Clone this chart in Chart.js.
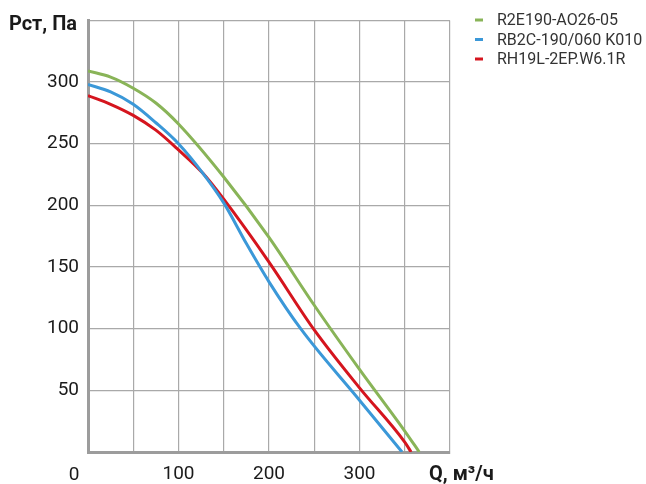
<!DOCTYPE html>
<html>
<head>
<meta charset="utf-8">
<script src="https://cdn.jsdelivr.net/npm/chart.js@4"></script>
<style>
  html, body { margin: 0; padding: 0; background: #fff; }
  #wrap { width: 646px; height: 484px; }
</style>
</head>
<body>
<div id="wrap"><canvas id="fanChart" width="646" height="484"></canvas></div>
<script>
// подписи серий
const seriesNames = ['R2E190-AO26-05', 'RB2C-190/060 K010', 'RH19L-2EP.W6.1R'];

// Q, м³/ч  -> Рст, Па
const greenQ = [0, 25, 50, 75, 100, 150, 200, 250, 300, 350, 366];
const greenP = [309, 304, 295, 283, 266, 223, 174, 119, 67, 17, 0];

const blueQ = [0, 25, 50, 75, 100, 127, 150, 175, 200, 235, 300, 347];
const blueP = [298, 292, 282, 267, 250, 226, 202, 169, 138, 100, 42, 0];

const redQ = [0, 25, 50, 75, 100, 127, 150, 200, 250, 300, 350, 357];
const redP = [289, 282, 273, 261, 245, 226, 205, 154, 99, 52, 8, 0];

const xTicks = [100, 200, 300];
const yTicks = [50, 100, 150, 200, 250, 300];

const colors = ['#89b458', '#3b98d8', '#d5151e'];

function pts(xs, ys) {
    return xs.map((x, i) => ({ x: x, y: ys[i] }));
}

const extraText = {
    id: 'extraText',
    afterDraw(chart) {
        const c = chart.ctx;
        c.save();
        c.fillStyle = '#1a1a1a';
        c.font = 'bold 20px Roboto';
        c.textAlign = 'right';
        c.textBaseline = 'alphabetic';
        c.fillText('Рст, Па', 77, 30);

        c.textBaseline = 'middle';
        c.textAlign = 'left';
        c.fillText('Q, м³/ч', 429, 475);

        c.font = '19px Roboto';
        c.textAlign = 'center';
        c.fillText('0', 74, 475);

        // легенда
        c.font = '16px Roboto';
        c.textAlign = 'left';
        chart.data.datasets.forEach((ds, i) => {
            const y = 20 + i * 19.5;
            c.strokeStyle = ds.borderColor;
            c.lineWidth = 3;
            c.beginPath();
            c.moveTo(475, y);
            c.lineTo(483, y);
            c.stroke();
            c.fillStyle = '#333';
            c.fillText(ds.label, 497, y + 1);
        });
        c.restore();
    }
};

const ctx = document.getElementById('fanChart').getContext('2d');
const chart = new Chart(ctx, {
    type: 'line',
    data: {
        datasets: [
            { label: seriesNames[0], data: pts(greenQ, greenP), borderColor: colors[0] },
            { label: seriesNames[1], data: pts(blueQ, blueP), borderColor: colors[1] },
            { label: seriesNames[2], data: pts(redQ, redP), borderColor: colors[2] }
        ].map(d => Object.assign(d, {
            borderWidth: 3,
            pointRadius: 0,
            fill: false,
            cubicInterpolationMode: 'monotone'
        }))
    },
    options: {
        responsive: false,
        animation: false,
        devicePixelRatio: 1,
        layout: { padding: { left: 0, top: 14, right: 196, bottom: 0 } },
        plugins: { legend: { display: false }, tooltip: { enabled: false } },
        scales: {
            x: {
                type: 'linear',
                min: 0, max: 400,
                afterFit: s => { s.height = 32; },
                ticks: {
                    stepSize: 50,
                    padding: 13,
                    maxRotation: 0,
                    autoSkip: false,
                    color: '#1a1a1a',
                    font: { family: 'Roboto', size: 19, lineHeight: 1 },
                    callback: v => xTicks.includes(v) ? String(v) : ''
                },
                grid: { color: '#a9a9a9', lineWidth: 1.2, drawTicks: false },
                border: { color: '#9c9c9c', width: 3 }
            },
            y: {
                min: 0, max: 350,
                afterFit: s => { s.width = 88; },
                ticks: {
                    stepSize: 50,
                    padding: 9,
                    color: '#1a1a1a',
                    font: { family: 'Roboto', size: 19 },
                    callback: v => yTicks.includes(v) ? String(v) : ''
                },
                grid: { color: '#a9a9a9', lineWidth: 1.2, drawTicks: false },
                border: { color: '#9c9c9c', width: 3 }
            }
        }
    },
    plugins: [extraText]
});
</script>
</body>
</html>
